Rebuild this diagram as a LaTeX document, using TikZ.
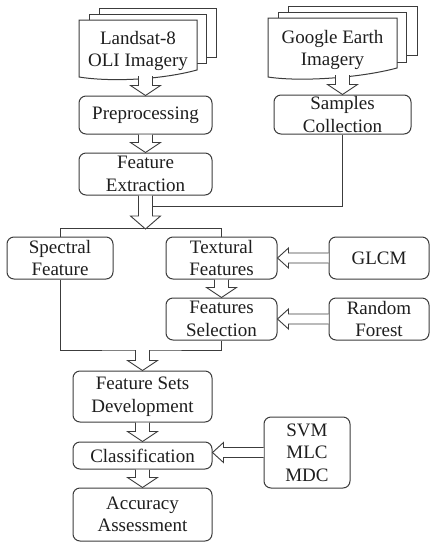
\documentclass[tikz,border=0pt]{standalone}
\usepackage{fontspec}
\setmainfont{Liberation Serif}
\usetikzlibrary{calc}
\definecolor{linecol}{RGB}{60,60,60}
\definecolor{txtcol}{RGB}{30,30,30}
\tikzset{
  base/.style={font=\fontsize{19}{22.5}\selectfont, text=txtcol},
  box/.style={base, draw=linecol, line width=1pt, rounded corners=7pt, align=center, inner sep=0pt},
  page/.style={draw=linecol, line width=1pt, fill=white},
  conn/.style={draw=linecol, line width=1pt},
  fat/.style={draw=linecol, line width=0.9pt, fill=white, line join=miter},
}
% vertical (downward) hollow arrow: [head length]{start}{target}
\newcommand\fatv[3][10]{%
  \path[fat] let \p1=#2, \p2=#3 in
   (\x1-7pt,\y1) -- (\x1-7pt,\y2+#1pt) -- (\x1-15pt,\y2+#1pt) -- (\x1,\y2)
   -- (\x1+15pt,\y2+#1pt) -- (\x1+7pt,\y2+#1pt) -- (\x1+7pt,\y1);}
% horizontal (leftward) hollow arrow: {start}{target}
\newcommand\fath[2]{%
  \path[fat] let \p1=#1, \p2=#2 in
   (\x1,\y1+5pt) -- (\x2+11pt,\y1+5pt) -- (\x2+11pt,\y1+10pt) -- (\x2,\y1)
   -- (\x2+11pt,\y1-10pt) -- (\x2+11pt,\y1-5pt) -- (\x1,\y1-5pt);}
\begin{document}
\begin{tikzpicture}[x=1pt,y=-1pt]
\useasboundingbox (0,0) rectangle (435,550);
\fill[white] (0,0) rectangle (435,550);

% Landsat document stack
\path[page] (99,8) rectangle (216,57);
\path[page] (89,14) rectangle (206,63);
\path[page] (79,20) -- (197,20) -- (197,70) .. controls (160,80) and (110,82) .. (79,77) -- cycle;
\node[base, align=center] (ls) at (138,51) {Landsat-8\\OLI Imagery};
\coordinate (lsb) at (145.5,76);

% Google Earth document stack
\path[page] (288,6) rectangle (417,55);
\path[page] (278,12) rectangle (406,62);
\path[page] (268,18) -- (397,18) -- (397,68) .. controls (360,78) and (300,82) .. (268,77) -- cycle;
\node[base, align=center] (ge) at (332.5,50) {Google Earth\\Imagery};
\coordinate (geb) at (342.5,75);

% boxes
\node[box, minimum width=133pt, minimum height=38pt] (pre) at (145.5,115) {Preprocessing};
\node[box, minimum width=133pt, minimum height=42pt] (fe) at (145.5,174) {Feature\\Extraction};
\node[box, minimum width=137pt, minimum height=39pt] (sc) at (342.5,114.5) {Samples\\Collection};
\node[box, minimum width=106pt, minimum height=42pt] (spec) at (60,258) {Spectral\\Feature};
\node[box, minimum width=111pt, minimum height=42pt] (tex) at (221.5,258) {Textural\\Features};
\node[box, minimum width=100pt, minimum height=42pt] (glcm) at (379,258) {GLCM};
\node[box, minimum width=111pt, minimum height=42pt] (fs) at (221.5,319) {Features\\Selection};
\node[box, minimum width=100pt, minimum height=42pt] (rf) at (379,319) {Random\\Forest};
\node[box, minimum width=139pt, minimum height=51pt] (fsd) at (142.5,396.5) {Feature Sets\\Development};
\node[box, minimum width=139pt, minimum height=27pt] (cls) at (142.5,455.5) {Classification};
\node[box, minimum width=86pt, minimum height=71pt] (svm) at (307,452.5) {SVM\\MLC\\MDC};
\node[box, minimum width=139pt, minimum height=53pt] (acc) at (142.5,514.5) {Accuracy\\Assessment};

% coordinates for junctions
\coordinate (split) at (145.5,229);
\coordinate (join) at (153,206);
\coordinate (merge) at (142.5,350);

% plain connectors
\draw[conn] (sc.south) |- (join);
\draw[conn] (spec.north) -- ++(0,-8) -| (tex.north);
\draw[conn] (spec.south) |- (merge) -| (fs.south);

% hollow arrows
\fatv{(lsb)}{(pre.north)}
\fatv{(geb)}{(sc.north)}
\fatv{(pre.south)}{(fe.north)}
\fatv[13]{(fe.south)}{(split)}
\fatv{(tex.south)}{(fs.north)}
\fatv{(merge)}{(fsd.north)}
\fatv{(fsd.south)}{(cls.north)}
\fatv{(cls.south)}{(acc.north)}
\fath{(glcm.west)}{(tex.east)}
\fath{(rf.west)}{(fs.east)}
\fath{(svm.west)}{(cls.east)}
\end{tikzpicture}
\end{document}
